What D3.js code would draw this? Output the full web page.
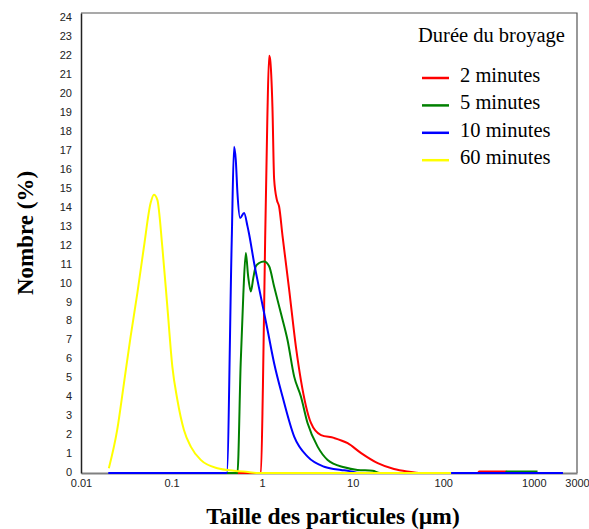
<!DOCTYPE html>
<html>
<head>
<meta charset="utf-8">
<script src="https://cdn.jsdelivr.net/npm/d3@7"></script>
<style>
html,body{margin:0;padding:0;background:#fff;}
svg{display:block;}
.serif{font-family:"Liberation Serif","Times New Roman",serif;}
.sans{font-family:"Liberation Sans",Arial,sans-serif;}
</style>
</head>
<body>
<svg id="chart" width="589" height="529"></svg>
<script>
// ---- data ----
const xTicks = [0.01, 0.1, 1, 10, 100, 1000, 3000];
const xTickLabels = ["0.01", "0.1", "1", "10", "100", "1000", "3000"];
const yTicks = d3.range(0, 25);

const seriesNames = ["2 minutes", "5 minutes", "10 minutes", "60 minutes"];
const seriesColors = ["#ff0000", "#008000", "#0000ff", "#ffff00"];

const redSizes  = [0.4, 0.97, 1.02, 1.08, 1.14, 1.195, 1.226, 1.30, 1.357, 1.455, 1.54, 1.68, 1.99, 2.36, 2.68, 3.46, 4.47, 6.21, 8.8, 12.4, 18.9, 28.6, 40, 57, 240, 250, 500];
const redValues = [0, 0, 4.5, 12.3, 18.5, 22.0, 21.8, 19.3, 15.5, 14.4, 14.05, 12.5, 9.66, 6.66, 4.9, 2.64, 2.0, 1.85, 1.57, 1.05, 0.52, 0.21, 0.08, 0, 0, 0.08, 0.08];

const greenSizes  = [0.4, 0.534, 0.58, 0.62, 0.661, 0.70, 0.75, 0.80, 0.852, 0.926, 1.05, 1.195, 1.357, 1.61, 1.91, 2.26, 2.68, 3.18, 4.10, 5.29, 8.07, 11.3, 16.6, 20, 490, 500, 1100];
const greenValues = [0, 0, 5.8, 9.4, 11.6, 10.4, 9.57, 10.3, 10.9, 11.07, 11.15, 10.9, 9.83, 8.43, 7.0, 5.08, 4.03, 2.62, 1.39, 0.69, 0.30, 0.16, 0.12, 0, 0, 0.08, 0.08];

const blueSizes  = [0.02, 0.407, 0.462, 0.49, 0.512, 0.534, 0.571, 0.632, 0.69, 0.718, 0.816, 0.967, 1.147, 1.357, 1.68, 2.26, 3.18, 4.85, 7.42, 8.8, 12, 2100];
const blueValues = [0, 0, 12.3, 17.2, 16.5, 14.76, 13.44, 13.7, 13.0, 12.6, 11.07, 9.3, 7.55, 5.79, 4.03, 1.92, 0.86, 0.33, 0.16, 0.12, 0, 0];

const yellowSizes  = [0.0203, 0.0251, 0.0298, 0.0353, 0.0419, 0.0496, 0.0587, 0.0639, 0.0697, 0.079, 0.0898, 0.102, 0.116, 0.137, 0.163, 0.21, 0.321, 0.49, 0.7, 0.9, 122];
const yellowValues = [0.25, 2.27, 4.73, 7.19, 9.48, 11.94, 14.23, 14.67, 14.4, 11.94, 8.78, 5.61, 3.85, 2.27, 1.39, 0.69, 0.25, 0.12, 0.05, 0, 0];

const seriesSizes = [redSizes, greenSizes, blueSizes, yellowSizes];
const seriesValues = [redValues, greenValues, blueValues, yellowValues];

// ---- layout ----
const svg = d3.select("#chart");
const mLeft = 81, mRight = 577, mTop = 13, mBottom = 473;

const x = d3.scaleLog().domain([0.01, 3000]).range([mLeft, mRight]);
const y = d3.scaleLinear().domain([0, 24.25]).range([mBottom, mTop]);

// frame (top and right)
svg.append("path")
  .attr("d", `M${mLeft},${mTop}H${mRight}V${mBottom}`)
  .attr("fill", "none").attr("stroke", "#555").attr("stroke-width", 1.2);

// x axis (gray, no ticks)
const xAxis = d3.axisBottom(x).tickValues(xTicks).tickSize(0).tickPadding(7)
  .tickFormat((d, i) => xTickLabels[i]);
const gx = svg.append("g").attr("transform", `translate(0,${mBottom})`).call(xAxis);
gx.attr("font-family", null).attr("font-size", null);
gx.select(".domain").attr("stroke", "#808080").attr("stroke-width", 2.2);
gx.selectAll("text").attr("class", "sans")
  .attr("font-size", 11).attr("fill", "#222").attr("dy", "0.6em");

// y axis
const yAxis = d3.axisLeft(y).tickValues(yTicks).tickSize(0).tickPadding(9);
const gy = svg.append("g").attr("transform", `translate(${mLeft},0)`).call(yAxis);
gy.attr("font-family", null).attr("font-size", null);
gy.select(".domain").attr("stroke", "#222").attr("stroke-width", 1.5);
gy.selectAll("text").attr("class", "sans")
  .attr("font-size", 11).attr("fill", "#222").attr("dy", "0.25em");

// lines
const line = d3.line()
  .x(d => x(d[0]))
  .y(d => y(d[1]))
  .curve(d3.curveMonotoneX);

seriesNames.forEach((name, i) => {
  const pts = seriesSizes[i].map((s, j) => [s, seriesValues[i][j]]);
  svg.append("path")
    .datum(pts)
    .attr("d", line)
    .attr("fill", "none")
    .attr("stroke", seriesColors[i])
    .attr("stroke-width", 2)
    .attr("stroke-linejoin", "round");
});

// axis titles
svg.append("text")
  .attr("class", "serif")
  .attr("transform", "translate(33,233) rotate(-90)")
  .attr("text-anchor", "middle")
  .attr("font-weight", "bold").attr("font-size", 23)
  .text("Nombre (%)");

svg.append("text")
  .attr("class", "serif")
  .attr("x", 333).attr("y", 524)
  .attr("text-anchor", "middle")
  .attr("font-weight", "bold").attr("font-size", 23.5)
  .text("Taille des particules (µm)");

// legend
const lg = svg.append("g");
lg.append("text").attr("class", "serif").attr("x", 418).attr("y", 42)
  .attr("font-size", 20.5).attr("fill", "#000")
  .text("Durée du broyage");
seriesNames.forEach((name, i) => {
  const by = 82 + i * 27.4;
  lg.append("line").attr("x1", 422).attr("x2", 449)
    .attr("y1", by - 4).attr("y2", by - 4)
    .attr("stroke", seriesColors[i]).attr("stroke-width", 2.5);
  lg.append("text").attr("class", "serif").attr("x", 460).attr("y", by)
    .attr("font-size", 20.5).attr("fill", "#000")
    .text(name);
});
</script>
</body>
</html>
